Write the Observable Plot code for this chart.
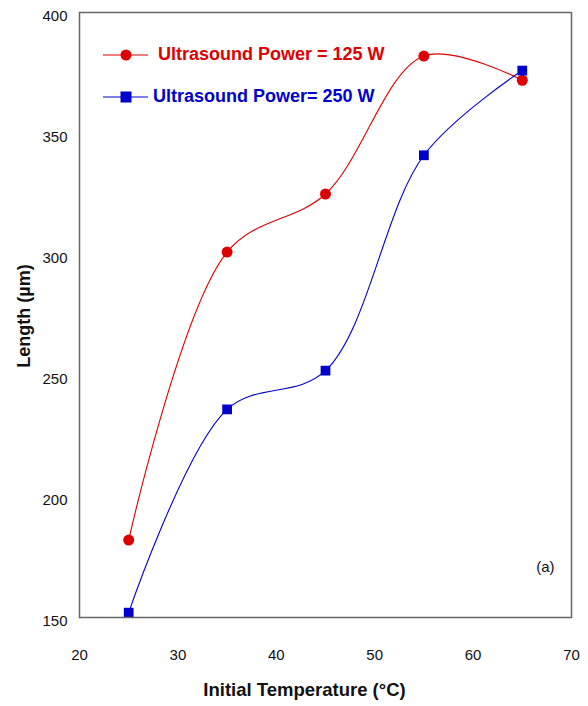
<!DOCTYPE html>
<html>
<head>
<meta charset="utf-8">
<script src="https://cdn.jsdelivr.net/npm/d3@7"></script>
<script src="https://cdn.jsdelivr.net/npm/@observablehq/plot@0.6"></script>
<style>
  body { margin: 0; background: #fff; }
  #wrap { position: relative; width: 588px; height: 706px; font-family: "Liberation Sans", Arial, sans-serif; }
  .leg { position: absolute; display: flex; align-items: center; font-weight: bold; font-size: 18px; white-space: nowrap; }
</style>
</head>
<body>
<div id="wrap"></div>
<script>
const temps = [25, 35, 45, 55, 65];
const len125 = [182, 301, 325, 382, 372];
const len250 = [152, 236, 252, 341, 376];
const xTicks = [20, 30, 40, 50, 60, 70];
const yTicks = [150, 200, 250, 300, 350, 400];
const seriesNames = ["Ultrasound Power = 125 W", "Ultrasound Power= 250 W"];
const colors = ["#dd0000", "#0000cc"];

const d125 = temps.map((t, i) => ({t, v: len125[i]}));
const d250 = temps.map((t, i) => ({t, v: len250[i]}));

const font = "Liberation Sans, Arial, sans-serif";

const chart = Plot.plot({
  width: 588,
  height: 706,
  marginLeft: 79,
  marginRight: 17,
  marginTop: 12,
  marginBottom: 89,
  style: {fontFamily: font, fontSize: "15px", color: "#111", background: "#fff"},
  x: {domain: [20, 70], ticks: xTicks},
  y: {domain: [150, 400], ticks: yTicks},
  marks: [
    Plot.axisX({ticks: xTicks, tickSize: 0, tickPadding: 32, label: null, fontSize: 15}),
    Plot.axisY({ticks: yTicks, tickSize: 0, tickPadding: 12, label: null, fontSize: 15, dy: 4}),
    Plot.line(d125, {x: "t", y: "v", curve: "catmull-rom", stroke: colors[0], strokeWidth: 1.1}),
    Plot.line(d250, {x: "t", y: "v", curve: "catmull-rom", stroke: colors[1], strokeWidth: 1.1}),
    Plot.dot(d125, {x: "t", y: "v", r: 5.5, fill: colors[0], symbol: "circle"}),
    Plot.dot(d250, {x: "t", y: "v", r: 5.5, fill: colors[1], symbol: "square"}),
    Plot.frame({stroke: "#666", strokeWidth: 1.5}),
    Plot.text(["(a)"], {frameAnchor: "bottom-right", dx: -17, dy: -46, fontSize: 15, fill: "#111"}),
    Plot.text(["Initial Temperature (°C)"], {frameAnchor: "bottom", dy: 78, dx: -21, fontSize: 18.5, fontWeight: "bold", fill: "#111"}),
    Plot.text(["Length (µm)"], {frameAnchor: "left", textAnchor: "middle", dx: -55, dy: 1, rotate: -90, fontSize: 18, fontWeight: "bold", fill: "#111"})
  ]
});

const wrap = document.getElementById("wrap");
wrap.appendChild(chart);

function legendItem(name, color, symbol, top, textLeft) {
  const div = document.createElement("div");
  div.className = "leg";
  div.style.left = "103px";
  div.style.top = (top - 10) + "px";
  div.style.color = color;
  const icon = symbol === "circle"
    ? `<circle cx="23" cy="10" r="5.5" fill="${color}"/>`
    : `<rect x="17.5" y="4.5" width="11" height="11" fill="${color}"/>`;
  div.innerHTML = `<svg width="45" height="20" style="display:block"><line x1="0" x2="45" y1="10" y2="10" stroke="${color}" stroke-width="1.2"/>${icon}</svg><span style="margin-left:${textLeft - 148}px">${name}</span>`;
  wrap.appendChild(div);
}
legendItem(seriesNames[0], colors[0], "circle", 54, 158);
legendItem(seriesNames[1], colors[1], "square", 96, 153);
</script>
</body>
</html>
